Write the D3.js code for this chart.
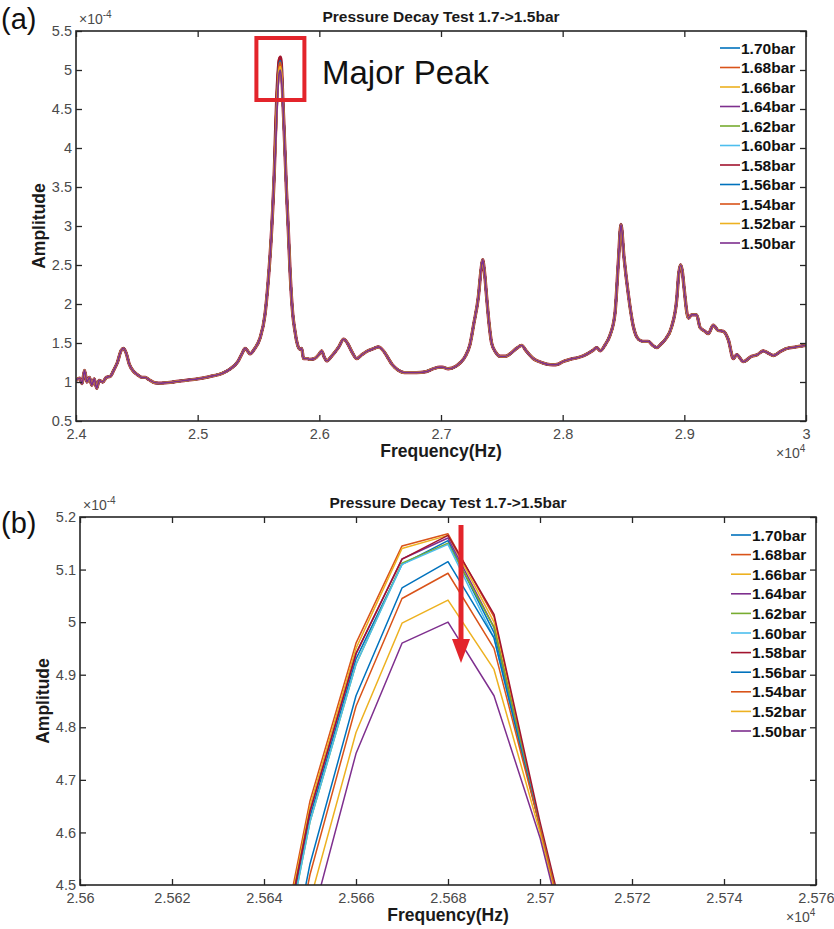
<!DOCTYPE html>
<html>
<head>
<meta charset="utf-8">
<script src="https://cdn.jsdelivr.net/npm/d3@7"></script>
<style>
  body { margin: 0; background: #fff; }
  svg { display: block; }
  text { font-family: Arial, "Liberation Sans", sans-serif; }
</style>
</head>
<body>
<svg width="834" height="929"></svg>
<script>
// series names and MATLAB default colours (legend order)
const seriesNames = ["1.70bar", "1.68bar", "1.66bar", "1.64bar", "1.62bar", "1.60bar",
                     "1.58bar", "1.56bar", "1.54bar", "1.52bar", "1.50bar"];
const seriesColors = ["#0072BD", "#D95319", "#EDB120", "#7E2F8E", "#77AC30", "#4DBEEE",
                      "#A2142F", "#0072BD", "#D95319", "#EDB120", "#7E2F8E"];

// shared spectrum (Hz, amplitude x1e-4), outside the major peak
const baseFreq = [24000, 24030, 24050, 24070, 24090, 24110, 24130, 24150, 24170, 24190,
  24220, 24250, 24280, 24310, 24340, 24370, 24390, 24410, 24440, 24470, 24500, 24540,
  24570, 24600, 24650, 24700, 24800, 24900, 25000, 25100, 25200, 25270, 25330, 25360,
  25390, 25410, 25430, 25470, 25512, 25553, 25580, 25608, 25630,
  25730, 25745, 25760, 25781, 25800, 25814, 25841, 25855, 25870, 25900, 25920, 25960,
  26000, 26019, 26040, 26060, 26100, 26160, 26200, 26230, 26270, 26307, 26350, 26400,
  26450, 26485, 26526, 26560, 26600, 26650, 26700, 26800, 26870, 26937, 26990, 27010,
  27060, 27120, 27160, 27200, 27238, 27270, 27307, 27330, 27342, 27355, 27375, 27395,
  27416, 27450, 27485, 27530, 27567, 27620, 27663, 27700, 27759, 27810, 27868, 27920,
  27964, 28000, 28060, 28142, 28200, 28252, 28279, 28310, 28350, 28389, 28430, 28458,
  28479, 28504, 28540, 28581, 28622, 28663, 28704, 28740, 28773, 28810, 28841, 28896,
  28937, 28955, 28970, 28985, 28997, 29033, 29060, 29101, 29129, 29170, 29197, 29238,
  29279, 29321, 29362, 29403, 29430, 29485, 29553, 29600, 29649, 29690, 29732, 29790,
  29841, 29920, 30000];
const baseAmp = [1.02, 1.05, 0.98, 1.15, 1.00, 1.06, 0.96, 1.04, 0.92, 1.02,
  1.00, 1.06, 1.07, 1.15, 1.25, 1.40, 1.43, 1.38, 1.22, 1.14, 1.10, 1.06,
  1.06, 1.03, 0.99, 0.985, 1.00, 1.02, 1.04, 1.07, 1.11, 1.17, 1.26, 1.35,
  1.43, 1.40, 1.36, 1.43, 1.56, 1.86, 2.30, 2.95, 3.70,
  3.45, 2.95, 2.40, 1.88, 1.65, 1.52, 1.42, 1.43, 1.30, 1.30, 1.29, 1.30,
  1.36, 1.40, 1.32, 1.27, 1.33, 1.45, 1.55, 1.50, 1.38, 1.30, 1.35, 1.40,
  1.43, 1.45, 1.40, 1.32, 1.22, 1.15, 1.12, 1.12, 1.13, 1.17, 1.19, 1.19,
  1.17, 1.20, 1.25, 1.33, 1.48, 1.75, 2.09, 2.45, 2.57, 2.45, 2.09, 1.75,
  1.50, 1.38, 1.33, 1.33, 1.36, 1.43, 1.47, 1.40, 1.30, 1.26, 1.23, 1.22,
  1.23, 1.26, 1.29, 1.32, 1.36, 1.41, 1.44, 1.40, 1.48, 1.60, 1.88, 2.55,
  3.02, 2.60, 2.12, 1.71, 1.55, 1.52, 1.52, 1.47, 1.44, 1.49, 1.54, 1.71,
  2.05, 2.40, 2.50, 2.40, 2.22, 1.82, 1.86, 1.86, 1.70, 1.65, 1.62, 1.73,
  1.66, 1.65, 1.54, 1.30, 1.35, 1.26, 1.33, 1.35, 1.40, 1.37, 1.34, 1.39,
  1.43, 1.45, 1.47];

// major peak samples (Hz) and each series' amplitude there
const peakFreq = [25640, 25650, 25660, 25670, 25680, 25690, 25700, 25710];
const amp170 = [4.19, 4.63, 4.93, 5.110, 5.155, 4.98, 4.61, 4.25];
const amp168 = [4.22, 4.66, 4.96, 5.145, 5.168, 5.01, 4.61, 4.25];
const amp166 = [4.21, 4.65, 4.95, 5.140, 5.165, 5.00, 4.61, 4.25];
const amp164 = [4.20, 4.64, 4.94, 5.120, 5.160, 4.99, 4.61, 4.25];
const amp162 = [4.18, 4.62, 4.92, 5.112, 5.150, 4.99, 4.61, 4.25];
const amp160 = [4.18, 4.62, 4.92, 5.110, 5.148, 4.97, 4.61, 4.25];
const amp158 = [4.20, 4.64, 4.94, 5.120, 5.165, 5.015, 4.62, 4.26];
const amp156 = [4.10, 4.54, 4.86, 5.065, 5.115, 4.97, 4.61, 4.25];
const amp154 = [4.08, 4.52, 4.84, 5.045, 5.093, 4.95, 4.61, 4.25];
const amp152 = [4.02, 4.47, 4.79, 4.998, 5.042, 4.91, 4.60, 4.24];
const amp150 = [3.98, 4.42, 4.75, 4.960, 5.000, 4.86, 4.59, 4.24];
const peakAmps = [amp170, amp168, amp166, amp164, amp162, amp160,
                  amp158, amp156, amp154, amp152, amp150];

// ticks
const ticksXA = [24000, 25000, 26000, 27000, 28000, 29000, 30000];
const labelsXA = ["2.4", "2.5", "2.6", "2.7", "2.8", "2.9", "3"];
const ticksYA = [0.5, 1, 1.5, 2, 2.5, 3, 3.5, 4, 4.5, 5, 5.5];
const labelsYA = ["0.5", "1", "1.5", "2", "2.5", "3", "3.5", "4", "4.5", "5", "5.5"];
const ticksXB = [25600, 25620, 25640, 25660, 25680, 25700, 25720, 25740, 25760];
const labelsXB = ["2.56", "2.562", "2.564", "2.566", "2.568", "2.57", "2.572", "2.574", "2.576"];
const ticksYB = [4.5, 4.6, 4.7, 4.8, 4.9, 5.0, 5.1, 5.2];
const labelsYB = ["4.5", "4.6", "4.7", "4.8", "4.9", "5", "5.1", "5.2"];

const svg = d3.select("svg");
const narrow = "\"Liberation Sans Narrow\", Arial, sans-serif";

function drawPanel(cfg) {
  const g = svg.append("g").attr("transform", `translate(${cfg.left},${cfg.top})`);
  const x = d3.scaleLinear().domain(cfg.xDomain).range([0, cfg.width]);
  const y = d3.scaleLinear().domain(cfg.yDomain).range([cfg.height, 0]);

  g.append("clipPath").attr("id", cfg.id + "clip")
    .append("rect").attr("width", cfg.width).attr("height", cfg.height);

  const line = d3.line()
    .x(d => x(d[0]))
    .y(d => y(d[1]))
    .curve(cfg.curve);

  const lines = g.append("g").attr("clip-path", `url(#${cfg.id}clip)`);
  cfg.series.forEach((pts, i) => {
    lines.append("path")
      .datum(pts)
      .attr("fill", "none")
      .attr("stroke", seriesColors[i])
      .attr("stroke-width", cfg.widths[i])
      .attr("stroke-linejoin", "round")
      .attr("d", line);
  });

  // axes, ticks pointing inwards
  const tickLen = 6;
  const xb = g.append("g").attr("transform", `translate(0,${cfg.height})`)
    .call(d3.axisBottom(x).tickValues(cfg.xTicks).tickFormat((d, i) => cfg.xLabels[i])
      .tickSizeInner(-tickLen).tickSizeOuter(0).tickPadding(8));
  const xt = g.append("g")
    .call(d3.axisTop(x).tickValues(cfg.xTicks).tickFormat("")
      .tickSizeInner(-tickLen).tickSizeOuter(0));
  const yl = g.append("g")
    .call(d3.axisLeft(y).tickValues(cfg.yTicks).tickFormat((d, i) => cfg.yLabels[i])
      .tickSizeInner(-tickLen).tickSizeOuter(0).tickPadding(4));
  const yr = g.append("g").attr("transform", `translate(${cfg.width},0)`)
    .call(d3.axisRight(y).tickValues(cfg.yTicks).tickFormat("")
      .tickSizeInner(-tickLen).tickSizeOuter(0));
  [xb, xt, yl, yr].forEach(a => {
    a.select(".domain").remove();
    a.selectAll(".tick line").attr("stroke", "#262626").attr("stroke-width", 1.3);
    a.selectAll(".tick text").attr("font-size", 14.5).attr("fill", "#4a4a4a")
      .attr("font-family", narrow);
  });

  g.append("rect")
    .attr("width", cfg.width).attr("height", cfg.height)
    .attr("fill", "none").attr("stroke", "#262626").attr("stroke-width", 1.6);

  // exponents
  const ey = g.append("text").attr("x", 3).attr("y", -7)
    .attr("font-size", 14).attr("fill", "#4a4a4a").attr("font-family", narrow);
  ey.append("tspan").text("\u00d710");
  ey.append("tspan").attr("dy", -6).attr("font-size", 10).text("-4");
  const ex = g.append("text").attr("x", cfg.width - 30).attr("y", cfg.height + 37)
    .attr("font-size", 14).attr("fill", "#4a4a4a").attr("font-family", narrow);
  ex.append("tspan").text("\u00d710");
  ex.append("tspan").attr("dy", -6).attr("font-size", 10).text("4");

  // title and axis labels
  g.append("text").attr("x", cfg.width / 2).attr("y", -9)
    .attr("text-anchor", "middle").attr("font-size", 15.5).attr("font-weight", "bold")
    .attr("fill", "#1a1a1a").text("Pressure Decay Test 1.7->1.5bar");
  g.append("text").attr("x", cfg.width / 2).attr("y", cfg.height + 36)
    .attr("text-anchor", "middle").attr("font-size", 17.5).attr("font-weight", "bold")
    .attr("fill", "#1a1a1a").text("Frequency(Hz)");
  g.append("text")
    .attr("transform", `translate(${cfg.yLabelX},${cfg.height / 2}) rotate(-90)`)
    .attr("text-anchor", "middle").attr("font-size", 17.5).attr("font-weight", "bold")
    .attr("fill", "#1a1a1a").text("Amplitude");

  // legend
  const leg = g.append("g").attr("transform", `translate(${cfg.legendX},${cfg.legendY})`);
  seriesNames.forEach((name, i) => {
    const row = leg.append("g").attr("transform", `translate(0,${i * cfg.legendStep})`);
    row.append("line").attr("x1", 0).attr("x2", 20)
      .attr("stroke", seriesColors[i]).attr("stroke-width", 1.6);
    row.append("text").attr("x", 21).attr("dy", "0.36em")
      .attr("font-size", 15.5).attr("font-weight", "bold").attr("fill", "#111")
      .text(name);
  });

  // panel tag
  svg.append("text").attr("x", 1).attr("y", cfg.tagY)
    .attr("font-size", 29).attr("fill", "#111").text(cfg.tag);

  return {g, x, y};
}

// panel (a): shared spectrum with each series' own major peak merged in
const seriesA = peakAmps.map(amps => {
  const pts = baseFreq.map((f, j) => [f, baseAmp[j]])
    .concat(peakFreq.map((f, j) => [f, amps[j]]));
  return pts.sort((a, b) => a[0] - b[0]);
});
const panelA = drawPanel({
  id: "a", tag: "(a)", tagY: 29,
  left: 76, top: 31, width: 730, height: 390,
  xDomain: [24000, 30000], yDomain: [0.5, 5.5],
  xTicks: ticksXA, xLabels: labelsXA, yTicks: ticksYA, yLabels: labelsYA,
  series: seriesA, curve: d3.curveMonotoneX,
  widths: [2.3, 2.3, 2.3, 2.3, 2.3, 2.3, 3.3, 2.3, 2.3, 2.1, 1.7],
  yLabelX: -31, legendX: 644, legendY: 17, legendStep: 19.5
});

// red box + annotation on panel (a)
panelA.g.append("rect")
  .attr("x", panelA.x(25680) - 24).attr("y", 7)
  .attr("width", 48).attr("height", 62)
  .attr("fill", "none").attr("stroke", "#e3242b").attr("stroke-width", 4);
panelA.g.append("text").attr("x", 246).attr("y", 53)
  .attr("font-size", 33).attr("fill", "#111").text("Major Peak");

// panel (b): zoom on the major peak
const seriesB = peakAmps.map(amps => peakFreq.map((f, j) => [f, amps[j]]));
const panelB = drawPanel({
  id: "b", tag: "(b)", tagY: 533,
  left: 80, top: 517, width: 736, height: 368,
  xDomain: [25600, 25760], yDomain: [4.5, 5.2],
  xTicks: ticksXB, xLabels: labelsXB, yTicks: ticksYB, yLabels: labelsYB,
  series: seriesB, curve: d3.curveLinear,
  widths: d3.range(11).map(() => 1.5),
  yLabelX: -31, legendX: 651, legendY: 18, legendStep: 19.6
});

// red arrow showing the decay
const arrowX = 461 - 80;
panelB.g.append("line")
  .attr("x1", arrowX).attr("x2", arrowX).attr("y1", 8).attr("y2", 128)
  .attr("stroke", "#e3242b").attr("stroke-width", 5);
panelB.g.append("path")
  .attr("d", `M${arrowX - 9},122 L${arrowX + 9},122 L${arrowX},146 Z`)
  .attr("fill", "#e3242b");
</script>
</body>
</html>
